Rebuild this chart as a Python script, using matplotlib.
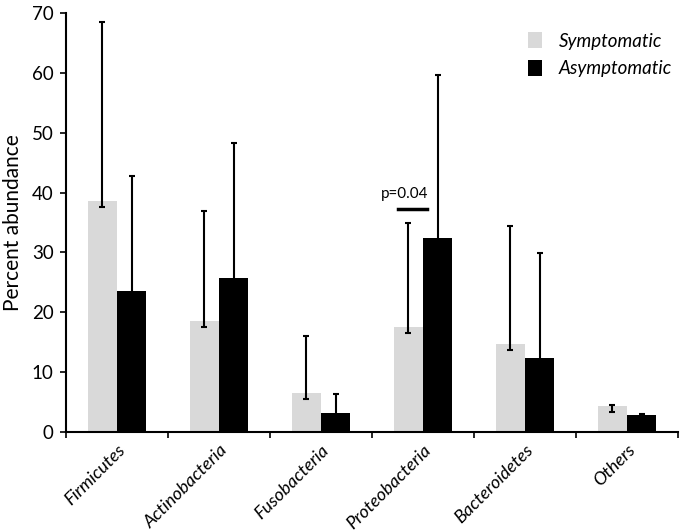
import matplotlib.pyplot as plt
import numpy as np

plt.rcParams['font.family'] = ['Lato', 'DejaVu Sans']

categories = ['Firmicutes', 'Actinobacteria', 'Fusobacteria', 'Proteobacteria', 'Bacteroidetes', 'Others']
symptomatic = [38.6, 18.5, 6.5, 17.5, 14.7, 4.4]
symp_err_low = [1.0, 0.9, 0.9, 1.0, 1.0, 1.0]
symp_upper = [68.5, 36.9, 16.0, 35.0, 34.4, 4.5]
asymptomatic = [23.6, 25.8, 3.1, 32.5, 12.4, 2.8]
asym_err_low = [0.5, 0.5, 0.5, 0.5, 0.5, 0.1]
asym_upper = [42.8, 48.3, 6.3, 59.6, 29.9, 2.95]

fig = plt.figure(figsize=(6.83, 5.31), dpi=100)
ax = fig.add_axes([0.0966, 0.1864, 0.8961, 0.789])

x = np.arange(len(categories))
w = 0.285
s = np.array(symptomatic)
a = np.array(asymptomatic)
ax.bar(x - w/2, s, w, color='#d9d9d9', label='Symptomatic', zorder=2)
ax.bar(x + w/2, a, w, color='black', label='Asymptomatic', zorder=2)
ax.errorbar(x - w/2, s, yerr=[symp_err_low, np.array(symp_upper) - s], fmt='none',
            ecolor='black', elinewidth=1.5, capsize=2, capthick=1.5, zorder=3)
ax.errorbar(x + w/2, a, yerr=[asym_err_low, np.array(asym_upper) - a], fmt='none',
            ecolor='black', elinewidth=1.5, capsize=2, capthick=1.5, zorder=3)

# significance marker
ax.plot([2.755, 3.04], [37.3, 37.3], color='black', lw=2.5)
ax.text(2.815, 38.6, 'p=0.04', ha='center', va='bottom', fontsize=11)

ax.set_xlim(-0.5, 5.5)
ax.set_ylim(0, 70)
ax.set_yticks(range(0, 71, 10))
ax.set_xticks(x)
ax.set_xticklabels(categories, rotation=45, ha='right', va='top', rotation_mode='anchor',
                   style='italic', fontsize=13)
ax.set_xticks(np.arange(-0.5, 6, 1), minor=True)
ax.tick_params(axis='x', which='major', length=0, pad=7)
ax.tick_params(axis='x', which='minor', length=4, width=1.2, direction='out')
ax.tick_params(axis='y', length=4, width=1.2, labelsize=13.5, pad=5)
ax.spines['top'].set_visible(False)
ax.spines['right'].set_visible(False)
ax.spines['left'].set_linewidth(1.5)
ax.spines['bottom'].set_linewidth(1.5)
ax.set_ylabel('Percent abundance', fontsize=15, labelpad=6)

leg = ax.legend(loc='upper right', bbox_to_anchor=(1.018, 0.995), frameon=False,
                prop={'style': 'italic', 'size': 13.5}, handlelength=0.75, handleheight=0.95,
                handletextpad=0.9, labelspacing=0.55)

fig.savefig('out.png', dpi=100)
